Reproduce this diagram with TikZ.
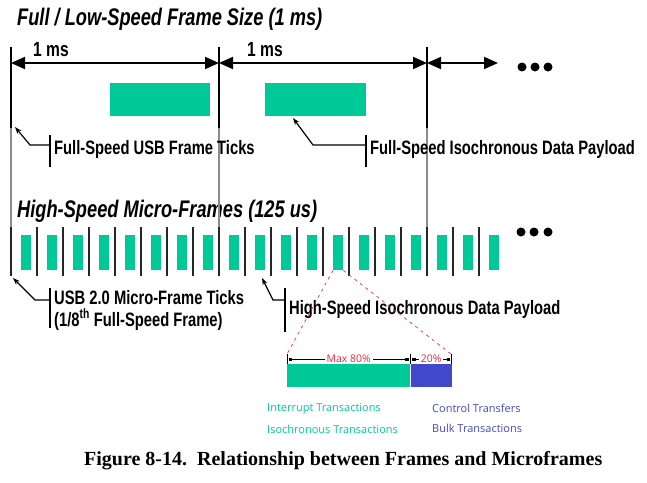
\documentclass[tikz,border=0pt]{standalone}
\usepackage{fontspec}
\setmainfont{Liberation Serif}
\newfontfamily\narrowsans{Liberation Sans}[FakeStretch=0.76]
\newfontfamily\legendsans{Open Sans}
\usetikzlibrary{arrows.meta,positioning}

\definecolor{payloadgreen}{RGB}{0,201,152}
\definecolor{ctrlblue}{RGB}{66,72,204}
\definecolor{dimred}{RGB}{236,40,60}
\definecolor{tickgray}{RGB}{140,140,140}

\tikzset{
  heading/.style={font=\narrowsans\bfseries\itshape\fontsize{24}{28}\selectfont, anchor=base west, inner sep=0pt},
  mslbl/.style={font=\narrowsans\bfseries\fontsize{20.5}{22}\selectfont, anchor=base west, inner sep=0pt},
  calloutlbl/.style={font=\narrowsans\bfseries\fontsize{19.4}{22}\selectfont, anchor=base west, inner xsep=4pt, inner ysep=0pt, align=left},
  legendlbl/.style={font=\legendsans\fontsize{11}{13}\selectfont, anchor=west, inner sep=0pt},
  dimlbl/.style={font=\legendsans\fontsize{10.5}{12}\selectfont, text=dimred, fill=white, inner xsep=2pt, inner ysep=0.5pt},
  payload/.style={fill=payloadgreen, draw=none, inner sep=0pt, anchor=north west},
  fstick/.style={line width=2.4pt},
  fsgray/.style={line width=2.4pt, draw=tickgray},
  mftick/.style={line width=1.8pt, draw=black!85},
  framearrow/.style={line width=2pt, {Triangle[length=14pt,width=12pt]}-{Triangle[length=14pt,width=12pt]}},
  callout/.style={line width=1.2pt, -{Stealth[length=7pt,width=5pt]}},
  calloutbar/.style={line width=1.2pt},
  zoomline/.style={draw=dimred, line width=0.7pt, dash pattern=on 3pt off 4pt},
  dimline/.style={line width=0.8pt, {Square[length=3pt,width=3pt]}-{Square[length=3pt,width=3pt]}, shorten <=2pt, shorten >=2pt}
}

\begin{document}
\begin{tikzpicture}[x=1pt,y=-1pt]
  \useasboundingbox (0,0) rectangle (647,482);

  % Headings
  \node[heading] (fshead) at (17,25) {Full / Low-Speed Frame Size (1 ms)};
  \node[heading] (hshead) at (17,217) {High-Speed Micro-Frames (125 us)};

  % Full-speed frame ticks
  \foreach \i/\x in {0/11,1/219,2/427} {
    \coordinate (fst\i) at (\x,47);
    \coordinate (fsm\i) at (\x,128);
    \coordinate (fsb\i) at (\x,227);
    \coordinate (fsa\i) at (\x,63);
    \draw[fstick] (fst\i) -- (fsm\i);
    \draw[fsgray] (fsm\i) -- (fsb\i);
  }
  \coordinate (fsaend) at (498,63);

  % Frame length arrows
  \draw[framearrow] (fsa0) -- (fsa1);
  \draw[framearrow] (fsa1) -- (fsa2);
  \draw[framearrow] (fsa2) -- (fsaend);
  \node[mslbl] (ms1) at (33,56) {1 ms};
  \node[mslbl] (ms2) at (247,56) {1 ms};
  \foreach \x in {522,535,548}
    \fill (\x,67) circle[radius=4.5pt];

  % Full-speed payloads
  \node[payload, minimum width=100pt, minimum height=33pt] (fsp1) at (110,83) {};
  \node[payload, minimum width=101pt, minimum height=33pt] (fsp2) at (265,83) {};

  % Micro-frame ticks and payloads
  \foreach \k in {0,...,18} {
    \pgfmathsetmacro\x{11+26*\k}
    \coordinate (mtt\k) at (\x,227);
    \coordinate (mtb\k) at (\x,276);
    \draw[mftick] (mtt\k) -- (mtb\k);
    \node[payload, minimum width=10pt, minimum height=35pt] (mp\k) at (\x+10,235) {};
  }
  \foreach \x in {521,534,548}
    \fill (\x,232) circle[radius=4.5pt];

  % Callouts
  \coordinate (ftTip) at (15,127);
  \coordinate (fpTip) at (293,118);
  \coordinate (mtTip) at (13,278);
  \coordinate (mpTip) at (262,278);

  \node[calloutlbl] (lblFT) at (50,154) {Full-Speed USB Frame Ticks};
  \draw[calloutbar] ([yshift=19pt]lblFT.base west) -- ([yshift=-13pt]lblFT.base west);
  \draw[callout] ([yshift=9pt]lblFT.base west) -- ++(-20,0) -- (ftTip);

  \node[calloutlbl] (lblFP) at (366,154) {Full-Speed Isochronous Data Payload};
  \draw[calloutbar] ([yshift=19pt]lblFP.base west) -- ([yshift=-13pt]lblFP.base west);
  \draw[callout] ([yshift=9pt]lblFP.base west) -- ++(-53,0) -- (fpTip);

  % base of a two-line node is its last line
  \node[calloutlbl] (lblMT) at (50,326) {USB 2.0 Micro-Frame Ticks\\(1/8\textsuperscript{th} Full-Speed Frame)};
  \draw[calloutbar] ([yshift=38pt]lblMT.base west) -- ([yshift=-2pt]lblMT.base west);
  \draw[callout] ([yshift=26pt]lblMT.base west) -- ++(-15,0) -- (mtTip);

  \node[calloutlbl] (lblMP) at (285,314) {High-Speed Isochronous Data Payload};
  \draw[calloutbar] ([yshift=26pt]lblMP.base west) -- ([yshift=-18pt]lblMP.base west);
  \draw[callout] ([yshift=14pt]lblMP.base west) -- ++(-12,0) -- (mpTip);

  % Micro-frame budget
  \node[payload, minimum width=123pt, minimum height=23pt] (periodic) at (287,364) {};
  \node[payload, fill=ctrlblue, minimum width=41pt, minimum height=23pt] (async) at (periodic.north east) {};
  \coordinate (dimL) at (287,354);
  \coordinate (dimR) at (451,354);
  \draw[zoomline] (mp12.south west) -- (dimL);
  \draw[zoomline] (mp12.south east) -- (dimR);
  \draw[line width=0.8pt] (periodic.north west) -- ++(0,-10);
  \draw[line width=0.8pt] (periodic.north east) -- ++(0,-10);
  \draw[line width=0.8pt] (async.north east) -- ++(0,-10);
  \draw[dimline] ([yshift=5pt]periodic.north west) -- ([yshift=5pt]periodic.north east) node[midway, dimlbl] {Max 80\%};
  \draw[dimline] ([yshift=5pt]async.north west) -- ([yshift=5pt]async.north east) node[midway, dimlbl] {20\%};

  % Legend
  \node[legendlbl, text=payloadgreen] (lgInt) at (267,409) {Interrupt Transactions};
  \node[legendlbl, text=payloadgreen] (lgIso) at (267,429) {Isochronous Transactions};
  \node[legendlbl, text=ctrlblue] (lgCtl) at (432,408) {Control Transfers};
  \node[legendlbl, text=ctrlblue] (lgBulk) at (432,428) {Bulk Transactions};

  % Caption
  \node[anchor=west, inner sep=0pt, font=\bfseries\fontsize{20}{22}\selectfont] (caption) at (84,461) {Figure 8-14.\ \ Relationship between Frames and Microframes};
\end{tikzpicture}
\end{document}
